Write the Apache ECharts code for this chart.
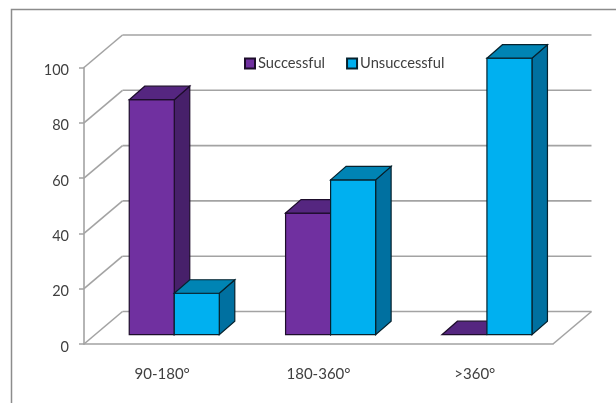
<!DOCTYPE html>
<html>
<head>
<meta charset="utf-8">
<style>html,body{margin:0;padding:0;background:#fff}#chart{width:616px;height:403px}</style>
<script src="https://cdn.jsdelivr.net/npm/echarts@6/dist/echarts.min.js"></script>
</head>
<body>
<div id="chart"></div>
<script>
// Outcome percentages per rotation range
const categories = ['90-180°', '180-360°', '>360°'];
const successful = [85, 44, 0];
const unsuccessful = [15, 56, 100];
const wallTicks = [0, 20, 40, 60, 80, 100];

// Oblique projection of the floor and the bars (pixels)
const WALL_DX = 38.5, WALL_DY = 32.5;
const BAR_DX = 15.5, BAR_DY = 13.5;
const BAR_LIFT = 9.3, BAR_SHIFT = 12.1, BAR_RATIO = 0.288;
const GRID_COLOR = '#a3a3a3', TEXT_COLOR = '#404040';

const poly = (points, fill, stroke) => ({
  type: 'polygon',
  shape: { points },
  style: { fill, stroke, lineWidth: 1.2, lineJoin: 'miter' }
});

const seg = (x1, y1, x2, y2) => ({
  type: 'line',
  shape: { x1, y1, x2, y2 },
  style: { stroke: GRID_COLOR, lineWidth: 1.6 }
});

// Gridlines on the back wall, with the diagonal run along the side wall
function renderWall(params, api) {
  const y = api.coord([0, api.value(0)])[1];
  const left = params.coordSys.x;
  const right = left + params.coordSys.width;
  const children = [
    seg(left, y, left + WALL_DX, y - WALL_DY),
    seg(left + WALL_DX, y - WALL_DY, right + WALL_DX, y - WALL_DY)
  ];
  if (api.value(0) === 0) children.push(seg(right, y, right + WALL_DX, y - WALL_DY));
  return { type: 'group', children };
}

// One 3D bar: front face, top face and right side face
function barRenderer(side, front, top, flank, stroke) {
  return function (params, api) {
    const center = api.coord([api.value(0), 0])[0] + BAR_SHIFT;
    const width = api.size([1, 0])[0] * BAR_RATIO;
    const base = api.coord([0, 0])[1] - BAR_LIFT;
    const height = api.coord([0, 0])[1] - api.coord([0, api.value(1)])[1];
    const x0 = center + (side < 0 ? -width : 0);
    const x1 = x0 + width;
    const yt = base - height;
    const children = [];
    if (height > 0) {
      children.push(poly([[x1, yt], [x1 + BAR_DX, yt - BAR_DY], [x1 + BAR_DX, base - BAR_DY], [x1, base]], flank, stroke));
      children.push(poly([[x0, yt], [x1, yt], [x1, base], [x0, base]], front, stroke));
    }
    children.push(poly([[x0, yt], [x0 + BAR_DX, yt - BAR_DY], [x1 + BAR_DX, yt - BAR_DY], [x1, yt]], top, stroke));
    return { type: 'group', children };
  };
}

const chart = echarts.init(document.getElementById('chart'), null, { renderer: 'canvas' });
const FONT = 'Lato, "Open Sans", sans-serif';

chart.setOption({
  animation: false,
  backgroundColor: '#ffffff',
  textStyle: { fontFamily: FONT },
  graphic: [{
    type: 'polyline',
    silent: true,
    shape: { points: [[11.5, 403], [11.5, 9.5], [616, 9.5]] },
    style: { stroke: '#8c8c8c', lineWidth: 1.5, fill: 'none' }
  }],
  grid: { left: 84, right: 63, top: 67.5, bottom: 59 },
  legend: {
    data: ['Successful', 'Unsuccessful'],
    left: 239,
    top: 51,
    icon: 'rect',
    itemWidth: 10,
    itemHeight: 10,
    itemGap: 21,
    textStyle: { color: TEXT_COLOR, fontSize: 14.7, fontFamily: FONT, padding: [0, 0, 0, -2] }
  },
  xAxis: {
    type: 'category',
    data: categories,
    axisLine: { lineStyle: { color: GRID_COLOR, width: 1.6 } },
    axisTick: { alignWithLabel: false, length: 6, lineStyle: { color: GRID_COLOR, width: 1.5 } },
    axisLabel: { color: TEXT_COLOR, fontSize: 15, fontFamily: FONT, margin: 23 }
  },
  yAxis: {
    type: 'value',
    min: 0,
    max: 100,
    interval: 20,
    splitLine: { show: false },
    axisLine: { show: true, lineStyle: { color: GRID_COLOR, width: 1.6 } },
    axisTick: { show: true, length: 5, lineStyle: { color: GRID_COLOR, width: 1.5 } },
    axisLabel: { color: TEXT_COLOR, fontSize: 14.5, fontFamily: FONT, margin: 15, verticalAlign: 'top', lineHeight: 6 }
  },
  series: [
    {
      type: 'custom',
      name: 'walls',
      silent: true,
      z: 1,
      renderItem: renderWall,
      encode: { y: 0 },
      data: wallTicks.map(v => [v])
    },
    {
      type: 'custom',
      name: 'Successful',
      z: 2,
      itemStyle: { color: '#7030A0', borderColor: '#1d0d2b', borderWidth: 1.2 },
      renderItem: barRenderer(-1, '#7030A0', '#552680', '#47206A', '#1d0d2b'),
      encode: { x: 0, y: 1 },
      data: successful.map((v, i) => [i, v])
    },
    {
      type: 'custom',
      name: 'Unsuccessful',
      z: 3,
      itemStyle: { color: '#00B0F0', borderColor: '#06222e', borderWidth: 1.2 },
      renderItem: barRenderer(1, '#00B0F0', '#0084B4', '#0070A0', '#06222e'),
      encode: { x: 0, y: 1 },
      data: unsuccessful.map((v, i) => [i, v])
    }
  ]
});
</script>
</body>
</html>
